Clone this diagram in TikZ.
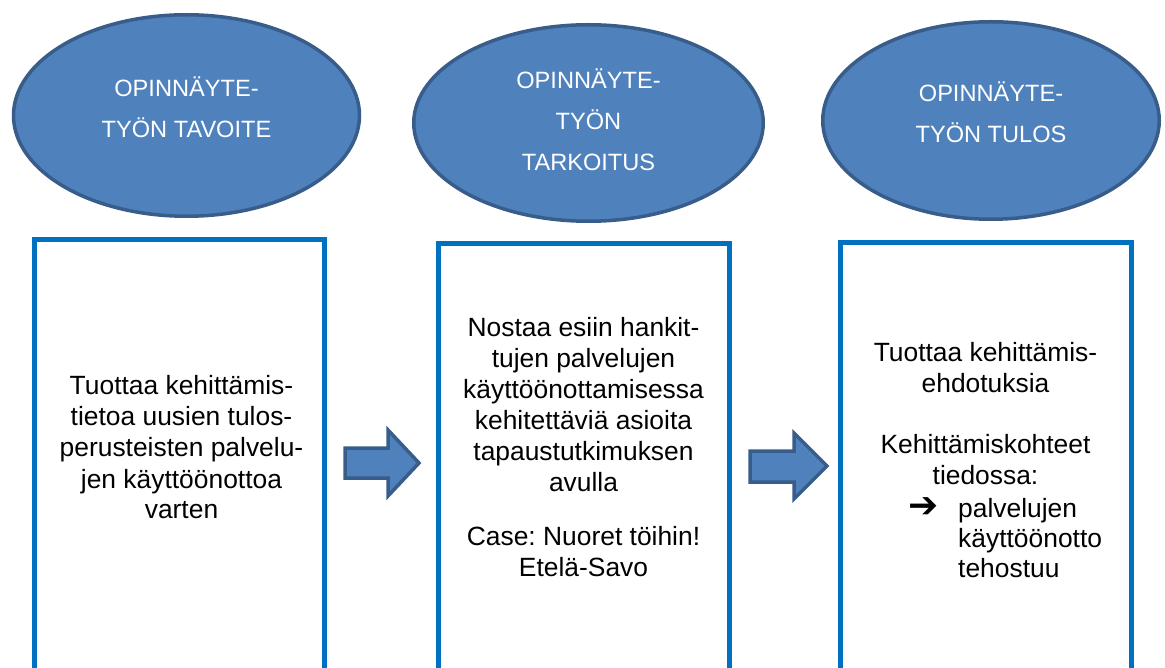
\documentclass[tikz,border=0pt]{standalone}
\usepackage{fontspec}
\setmainfont{Liberation Sans}
\newfontfamily\symfont{DejaVu Sans}
\usetikzlibrary{shapes.geometric}
\frenchspacing
\definecolor{ellfill}{HTML}{4F81BD}
\definecolor{ellline}{HTML}{385D8A}
\definecolor{boxline}{HTML}{0070C0}
\newcommand\mycenterlines[1]{\begin{tabular}[t]{@{}c@{}}#1\end{tabular}}
\newcommand\myleftlines[1]{\begin{tabular}[t]{@{}l@{}}#1\end{tabular}}
\begin{document}
\begin{tikzpicture}[x=1pt,y=-1pt,
  goal/.style={ellipse, draw=ellline, line width=3.5pt, fill=ellfill, inner sep=0pt},
  panel/.style={rectangle, draw=boxline, line width=5pt, inner sep=0pt},
  headtext/.style={anchor=base, inner sep=0pt, text=white, font=\fontsize{23.6}{41}\selectfont},
  bodytext/.style={anchor=base, inner sep=0pt, font=\fontsize{26.4}{31}\selectfont},
  listtext/.style={anchor=base west, inner sep=0pt, font=\fontsize{26.4}{30}\selectfont},
  blockarrow/.style={draw=ellline, line width=3.5pt, fill=ellfill, line join=miter}]
\useasboundingbox (0,0) rectangle (1165,668);
\clip (0,0) rectangle (1165,668);

% goal ellipses
\node[goal, minimum width=346pt, minimum height=201.5pt] (e1) at (186.5,115.5) {};
\node[goal, minimum width=349.5pt, minimum height=196.5pt] (e2) at (588.5,123) {};
\node[goal, minimum width=336.5pt, minimum height=197.5pt] (e3) at (991,120.5) {};

\node[headtext] (t1) at (186.5,97) {\mycenterlines{OPINNÄYTE-\\TYÖN TAVOITE}};
\node[headtext] (t2) at (588.5,89) {\mycenterlines{OPINNÄYTE-\\TYÖN\\TARKOITUS}};
\node[headtext] (t3) at (991,102) {\mycenterlines{OPINNÄYTE-\\TYÖN TULOS}};

% content panels
\node[panel, minimum width=290pt, minimum height=470pt] (b1) at (179,475) {};
\node[panel, minimum width=290.3pt, minimum height=466pt] (b2) at (583.85,477) {};
\node[panel, minimum width=291pt, minimum height=467pt] (b3) at (985.5,476.5) {};

\node[bodytext] (c1) at (181.5,395) {\mycenterlines{Tuottaa kehittämis-\\tietoa uusien tulos-\\perusteisten palvelu-\\jen käyttöönottoa\\varten}};
\node[bodytext] (c2) at (583.5,337) {\mycenterlines{Nostaa esiin hankit-\\tujen palvelujen\\käyttöönottamisessa\\kehitettäviä asioita\\tapaustutkimuksen\\avulla\\[23pt]Case: Nuoret töihin!\\Etelä-Savo}};
\node[bodytext] (c3a) at (985.5,362) {\mycenterlines{Tuottaa kehittämis-\\ehdotuksia}};
\node[bodytext] (c3b) at (985.5,453) {\mycenterlines{Kehittämiskohteet\\tiedossa:}};
\node[anchor=center, inner sep=0pt, font=\symfont\fontsize{36}{40}\selectfont] (bul) at (924,508) {➔};
\node[listtext] (c3c) at (958,517) {\myleftlines{palvelujen\\käyttöönotto\\tehostuu}};

% block arrows
\draw[blockarrow] (345,448) -- (388,448) -- (388,430) -- (419,463) -- (388,496) -- (388,478) -- (345,478) -- cycle;
\draw[blockarrow] (750,451) -- (794,451) -- (794,433) -- (827,466) -- (794,499) -- (794,482) -- (750,482) -- cycle;
\end{tikzpicture}
\end{document}
